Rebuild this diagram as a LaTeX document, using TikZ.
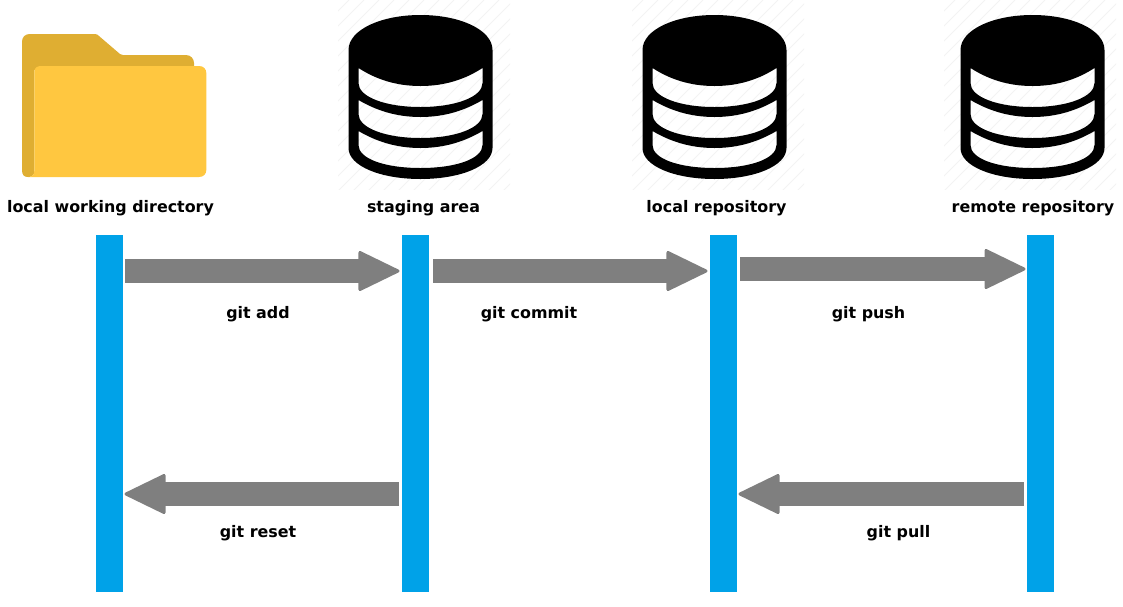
\documentclass[tikz,border=0pt]{standalone}
\usepackage{fontspec}
\setmainfont{DejaVu Sans}
\usetikzlibrary{arrows.meta}
\definecolor{barblue}{HTML}{00A2E8}
\definecolor{arrowgray}{HTML}{7F7F7F}
\definecolor{folderback}{HTML}{DFAE32}
\definecolor{folderfront}{HTML}{FFC740}
\definecolor{hatchgray}{HTML}{F3F3F3}
\tikzset{
  x=1pt,y=-1pt,
  lifeline/.style={draw=none,fill=barblue,minimum width=27pt,minimum height=357pt,inner sep=0pt,outer sep=0pt},
  flow/.style={draw=arrowgray,line width=24pt,-{Triangle[length=43pt,width=41pt,line join=round,round,line width=3pt]}},
  lbl/.style={font=\bfseries\fontsize{15.9pt}{18pt}\selectfont,inner sep=0pt,text=black},
  pics/hatchbox/.style={code={
    \begin{scope}
      \clip (-86,0) rectangle (86,189);
      \foreach \k in {0,...,26}{
        \draw[hatchgray,line width=1pt] (-290+15*\k,200) -- (-90+15*\k,0);
      }
    \end{scope}
  }},
  pics/dbicon/.style={code={
    \fill[black,even odd rule]
      (-72,50) .. controls (-72,30) and (-40,15) .. (0,15) .. controls (40,15) and (72,30) .. (72,50)
      -- (72,148) .. controls (72,166) and (40,179) .. (0,179) .. controls (-40,179) and (-72,166) .. (-72,148) -- cycle
      (-62,68) .. controls (-45,79) and (-25,86) .. (0,86) .. controls (25,86) and (45,79) .. (62,68)
      -- (62,83) .. controls (62,97) and (35,107) .. (0,107) .. controls (-35,107) and (-62,97) .. (-62,83) -- cycle
      (-62,100) .. controls (-45,110) and (-25,117) .. (0,117) .. controls (25,117) and (45,110) .. (62,100)
      -- (62,114) .. controls (62,128) and (35,138) .. (0,138) .. controls (-35,138) and (-62,128) .. (-62,114) -- cycle
      (-62,131) .. controls (-45,141) and (-25,148) .. (0,148) .. controls (25,148) and (45,141) .. (62,131)
      -- (62,145) .. controls (62,159) and (35,168) .. (0,168) .. controls (-35,168) and (-62,159) .. (-62,145) -- cycle;
  }}
}
\begin{document}
\begin{tikzpicture}
\useasboundingbox (0,0) rectangle (1123,606);
% folder
\fill[folderback] (22,170) -- (22,42) .. controls (22,37) and (25,34) .. (30,34) -- (95,34) .. controls (97,34) and (98,35) .. (99,36)
  -- (120,54) .. controls (121,55) and (122,55) .. (123,55) -- (186,55) .. controls (191,55) and (194,59) .. (194,63)
  -- (194,70) -- (34.3,70) -- (34.3,171) .. controls (34.3,175) and (32,177) .. (28,177) .. controls (24,177) and (22,175) .. (22,170) -- cycle;
\fill[folderfront] (34.3,72) .. controls (34.3,68) and (37,66) .. (41,66) -- (199,66) .. controls (203.5,66) and (206.3,69) .. (206.3,73)
  -- (206.3,170) .. controls (206.3,174) and (203.5,177) .. (199,177) -- (28,177) .. controls (32,177) and (34.3,175) .. (34.3,171) -- cycle;
% database icons
\pic at (424,0) {hatchbox};
\pic at (718,0) {hatchbox};
\pic at (1030,0) {hatchbox};
\pic at (420.5,0) {dbicon};
\pic at (714.5,0) {dbicon};
\pic at (1032.5,0) {dbicon};
% titles
\node[lbl] (t1) at (110.5,208.5) {local working directory};
\node[lbl] (t2) at (423.5,208.5) {staging area};
\node[lbl] (t3) at (716.5,208.5) {local repository};
\node[lbl] (t4) at (1033,208.5) {remote repository};
% lifelines
\node[lifeline] (b1) at (109.5,413.5) {};
\node[lifeline] (b2) at (415.5,413.5) {};
\node[lifeline] (b3) at (723.5,413.5) {};
\node[lifeline] (b4) at (1040.5,413.5) {};
% connector ends
\coordinate (a1s) at (125,271);  \coordinate (a1e) at (399.5,271);
\coordinate (a2s) at (433,271);  \coordinate (a2e) at (707.5,271);
\coordinate (a3s) at (740,269);  \coordinate (a3e) at (1025.5,269);
\coordinate (a4s) at (399,494);  \coordinate (a4e) at (124.5,494);
\coordinate (a5s) at (1024,494); \coordinate (a5e) at (738.5,494);
\draw[flow] (a1s) -- (a1e);
\draw[flow] (a2s) -- (a2e);
\draw[flow] (a3s) -- (a3e);
\draw[flow] (a4s) -- (a4e);
\draw[flow] (a5s) -- (a5e);
% labels
\node[lbl] (l1) at (258,314.5) {git add};
\node[lbl] (l2) at (529,314.5) {git commit};
\node[lbl] (l3) at (868.5,314.5) {git push};
\node[lbl] (l4) at (258,533.5) {git reset};
\node[lbl] (l5) at (898.5,533.5) {git pull};
\end{tikzpicture}
\end{document}
